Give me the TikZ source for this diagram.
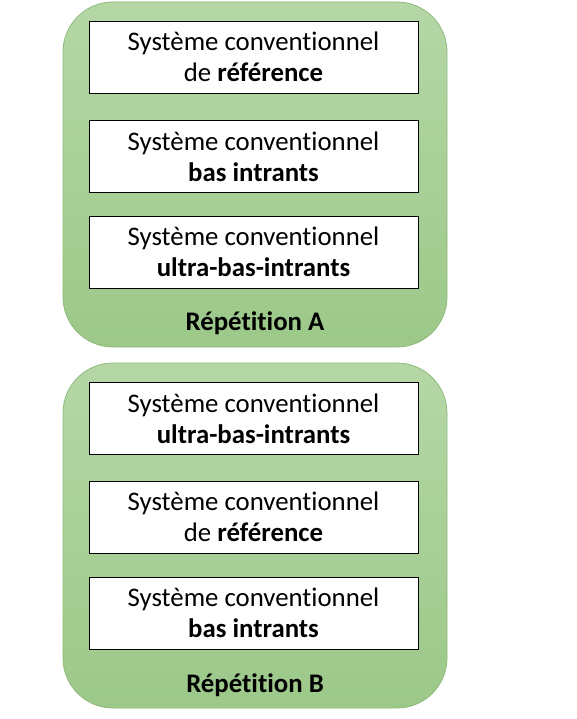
\documentclass[tikz,border=0pt]{standalone}
\usepackage{fontspec}
\setmainfont{Carlito}[Ligatures=NoCommon]
\usetikzlibrary{positioning}

\definecolor{leafTop}{HTML}{B5D7A6}
\definecolor{leafBot}{HTML}{9CC889}
\definecolor{leafLine}{HTML}{8DBA7B}

\tikzset{
  greenbox/.style={draw=leafLine, line width=0.8pt, top color=leafTop, bottom color=leafBot,
    rounded corners=50pt, minimum width=384pt, minimum height=345pt, inner sep=0pt},
  sysbox/.style={draw=black, line width=0.8pt, fill=white, minimum width=329pt,
    minimum height=72pt, align=center, inner sep=0pt,
    font=\fontsize{26.8}{31}\selectfont},
  replabel/.style={font=\fontsize{26.8}{31}\selectfont\bfseries}
}

\begin{document}
\begin{tikzpicture}[x=1pt,y=-1pt]
    % page frame
    \useasboundingbox (0,0) rectangle (576,719);

    % the two repetitions
    \node[greenbox] (repA) at (255,174.5) {};
    \node[greenbox] (repB) at (255,535.5) {};

    % systems of repetition A
    \node[sysbox] (a1) at (253.5,57)    {Système conventionnel\\de \textbf{référence}};
    \node[sysbox] (a2) at (253.5,156.5) {Système conventionnel\\\textbf{bas intrants}};
    \node[sysbox] (a3) at (253.5,252)   {Système conventionnel\\\textbf{ultra-bas-intrants}};
    \node[replabel] (labA) at (255,323) {Répétition A};

    % systems of repetition B
    \node[sysbox] (b1) at (253.5,418.5) {Système conventionnel\\\textbf{ultra-bas-intrants}};
    \node[sysbox] (b2) at (253.5,517)   {Système conventionnel\\de \textbf{référence}};
    \node[sysbox] (b3) at (253.5,613)   {Système conventionnel\\\textbf{bas intrants}};
    \node[replabel] (labB) at (255,685) {Répétition B};
\end{tikzpicture}
\end{document}
